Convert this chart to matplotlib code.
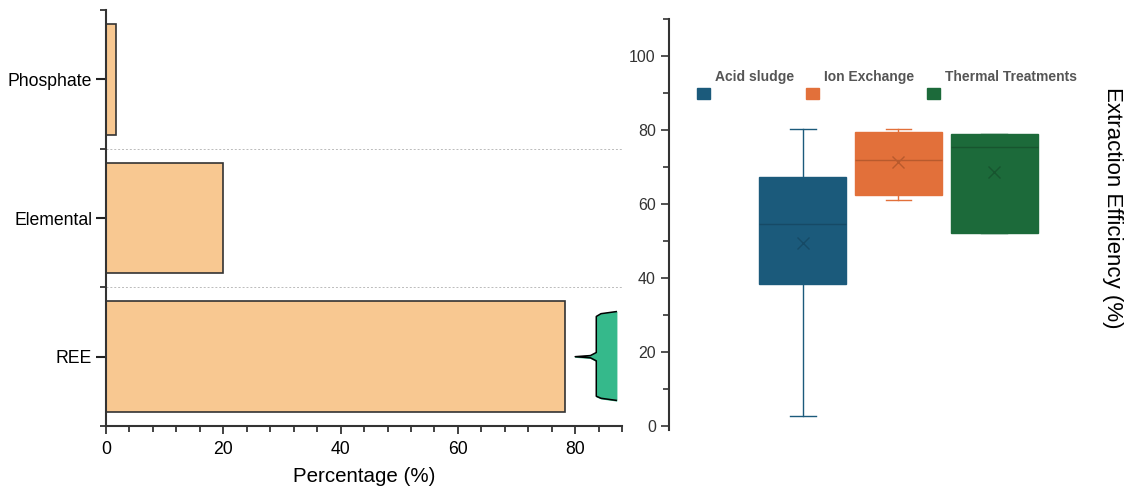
import matplotlib.pyplot as plt
import numpy as np
from matplotlib.patches import Rectangle
from matplotlib.ticker import MultipleLocator, FixedLocator

plt.rcParams['font.family'] = ['Liberation Sans', 'DejaVu Sans']

# share of studies per material type
materials = ['REE', 'Elemental', 'Phosphate']
percentages = [78.2, 20.0, 1.7]

# half-violin outline next to the REE bar
violin_y = [-0.315, -0.30, -0.285, -0.03, -0.008, 0.0, 0.008, 0.03, 0.29, 0.31, 0.325]
violin_x = [87.0, 84.4, 83.6, 83.6, 82.6, 80.0, 82.6, 83.6, 83.6, 84.4, 87.0]
violin_edge = 87.0

# extraction efficiency summary per treatment
methods = ['Acid sludge', 'Ion Exchange', 'Thermal Treatments']
eff_min = [2.7, 61.0, 52.1]
eff_q1 = [38.4, 62.4, 52.1]
eff_median = [54.6, 71.9, 75.3]
eff_q3 = [67.3, 79.5, 79.0]
eff_max = [80.3, 80.3, 79.0]
eff_mean = [49.5, 71.3, 68.6]

colors = ['#1b5a7b', '#e2703a', '#1c6a3a']
dark = ['#164a66', '#b85a2d', '#17552f']

fig = plt.figure(figsize=(11.29, 4.9), dpi=100)

# left: horizontal bars
ax1 = fig.add_axes([0.0939, 0.1306, 0.4571, 0.849])
pos = np.arange(len(materials))
ax1.barh(pos, percentages, height=0.8, color='#f8c891', edgecolor='#333333', linewidth=1.2, zorder=2)
ax1.fill_betweenx(violin_y, violin_x, violin_edge, color='#35b98b', zorder=2)
ax1.plot(violin_x, violin_y, color='black', linewidth=1.1, zorder=3)
for b in [0.5, 1.5]:
    ax1.axhline(b, color='#bbbbbb', linestyle=(0, (2, 2)), linewidth=0.7, zorder=1)
ax1.set_xlim(0, 88)
ax1.set_ylim(-0.5, 2.5)
ax1.set_yticks(pos)
ax1.set_yticklabels(materials, fontsize=12.7)
ax1.yaxis.set_minor_locator(FixedLocator([-0.5, 0.5, 1.5, 2.5]))
ax1.set_xticks([0, 20, 40, 60, 80])
ax1.xaxis.set_minor_locator(MultipleLocator(4))
ax1.tick_params(axis='x', labelsize=12.7, length=6, width=1.2, color='#222222', pad=5)
ax1.tick_params(axis='y', length=7, width=1.5, color='#222222', pad=3)
ax1.tick_params(which='minor', length=4, width=1.2, color='#222222')
for s in ['top', 'right']:
    ax1.spines[s].set_visible(False)
for s in ['left', 'bottom']:
    ax1.spines[s].set_linewidth(1.5)
    ax1.spines[s].set_color('#333333')
ax1.set_xlabel('Percentage (%)', fontsize=14.8, labelpad=6)

# right: box plots of extraction efficiency
ax2 = fig.add_axes([0.5926, 0.1216, 0.3463, 0.8394])
stats = []
for i, m in enumerate(methods):
    stats.append(dict(label=m, med=eff_median[i], q1=eff_q1[i], q3=eff_q3[i],
                      whislo=eff_min[i], whishi=eff_max[i], mean=eff_mean[i], fliers=[]))
bp = ax2.bxp(stats, positions=range(len(methods)), widths=0.91, capwidths=0.27,
             patch_artist=True, showmeans=True)
for i in range(len(methods)):
    bp['boxes'][i].set_facecolor(colors[i])
    bp['boxes'][i].set_edgecolor(colors[i])
    bp['boxes'][i].set_linewidth(1)
    bp['medians'][i].set_color(dark[i])
    bp['medians'][i].set_linewidth(1)
    for w in bp['whiskers'][2 * i:2 * i + 2] + bp['caps'][2 * i:2 * i + 2]:
        w.set_color(colors[i])
        w.set_linewidth(1)
    bp['means'][i].set_marker('x')
    bp['means'][i].set_markeredgecolor(dark[i])
    bp['means'][i].set_markersize(8)
    bp['means'][i].set_markeredgewidth(1)

ax2.set_xlim(-1.40, 2.69)
ax2.set_ylim(-1.2, 110)
ax2.set_yticks([0, 20, 40, 60, 80, 100])
ax2.yaxis.set_minor_locator(MultipleLocator(10))
ax2.set_xticks([])
ax2.tick_params(axis='y', labelsize=11.5, labelcolor='#333333', length=6, width=1.2, color='#333333')
ax2.tick_params(which='minor', length=4, width=1.2, color='#333333')
for s in ['top', 'right', 'bottom']:
    ax2.spines[s].set_visible(False)
ax2.spines['left'].set_linewidth(1.5)
ax2.spines['left'].set_color('#333333')

# legend: square below-left of each label
leg_x = [0.072, 0.351, 0.661]
for i, m in enumerate(methods):
    ax2.add_patch(Rectangle((leg_x[i], 0.805), 0.032, 0.027, transform=ax2.transAxes,
                            color=colors[i], clip_on=False))
    ax2.text(leg_x[i] + 0.046, 0.859, m, transform=ax2.transAxes, fontsize=10,
             fontweight='bold', color='#555555', va='center', ha='left')

fig.text(0.9855, 0.5765, 'Extraction Efficiency (%)', rotation=270, fontsize=16,
         ha='center', va='center')

fig.savefig('out.png', dpi=100)
